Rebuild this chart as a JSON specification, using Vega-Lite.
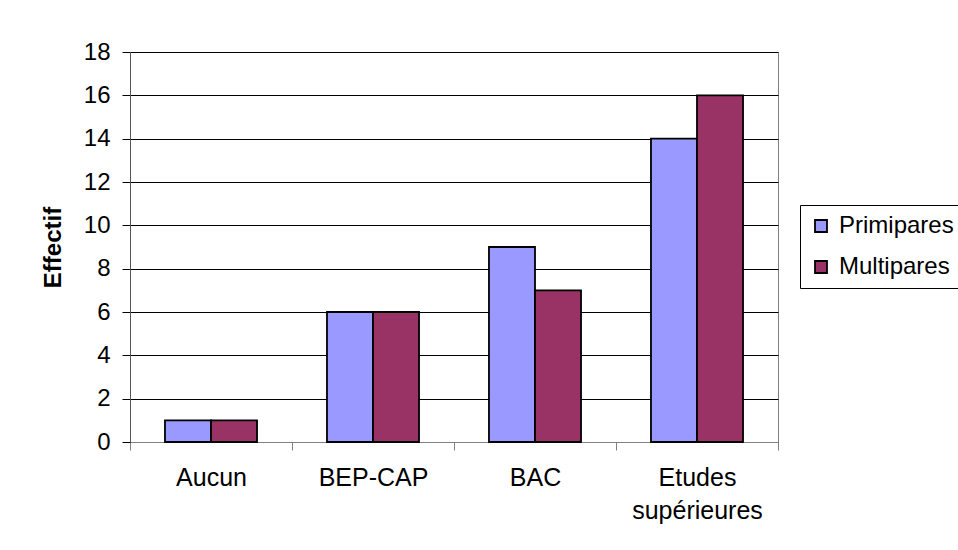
{
  "$schema": "https://vega.github.io/schema/vega-lite/v6.json",
  "width": 648,
  "height": 390,
  "autosize": {"type": "none"},
  "padding": {"left": 130, "top": 52, "right": 180, "bottom": 108},
  "background": "white",
  "config": {
    "font": "Liberation Sans",
    "view": {"stroke": "#808080", "strokeWidth": 1}
  },
  "data": {
    "values": [
      {"niveau": "Aucun", "groupe": "Primipares", "effectif": 1},
      {"niveau": "Aucun", "groupe": "Multipares", "effectif": 1},
      {"niveau": "BEP-CAP", "groupe": "Primipares", "effectif": 6},
      {"niveau": "BEP-CAP", "groupe": "Multipares", "effectif": 6},
      {"niveau": "BAC", "groupe": "Primipares", "effectif": 9},
      {"niveau": "BAC", "groupe": "Multipares", "effectif": 7},
      {"niveau": "Etudes supérieures", "groupe": "Primipares", "effectif": 14},
      {"niveau": "Etudes supérieures", "groupe": "Multipares", "effectif": 16}
    ]
  },
  "mark": {"type": "bar", "stroke": "black", "strokeWidth": 1.8},
  "encoding": {
    "x": {
      "field": "niveau",
      "type": "nominal",
      "sort": ["Aucun", "BEP-CAP", "BAC", "Etudes supérieures"],
      "scale": {"paddingInner": 0, "paddingOuter": 0},
      "axis": {
        "title": null,
        "labelAngle": 0,
        "labelFont": "Liberation Sans",
        "labelFontSize": 25,
        "labelColor": "black",
        "labelPadding": 15,
        "labelLineHeight": 33,
        "labelExpr": "datum.value == 'Etudes supérieures' ? ['Etudes', 'supérieures'] : datum.value",
        "tickBand": "extent",
        "tickSize": 8,
        "tickColor": "#808080",
        "domainColor": "#808080",
        "grid": false
      }
    },
    "xOffset": {
      "field": "groupe",
      "type": "nominal",
      "sort": ["Primipares", "Multipares"],
      "scale": {"paddingInner": 0, "paddingOuter": 0.76}
    },
    "y": {
      "field": "effectif",
      "type": "quantitative",
      "scale": {"domain": [0, 18], "nice": false},
      "axis": {
        "title": "Effectif",
        "titleFont": "Liberation Sans",
        "titleFontSize": 24,
        "titleFontWeight": "bold",
        "titleColor": "black",
        "titlePadding": 18,
        "values": [0, 2, 4, 6, 8, 10, 12, 14, 16, 18],
        "labelFont": "Liberation Sans",
        "labelFontSize": 24,
        "labelColor": "black",
        "labelPadding": 12,
        "tickSize": 8,
        "tickColor": "black",
        "domainColor": "#555555",
        "grid": true,
        "gridColor": "black",
        "gridOpacity": 1,
        "gridWidth": 1
      }
    },
    "color": {
      "field": "groupe",
      "type": "nominal",
      "sort": ["Primipares", "Multipares"],
      "scale": {"domain": ["Primipares", "Multipares"], "range": ["#9999FF", "#993366"]},
      "legend": {
        "title": null,
        "orient": "none",
        "legendX": 670,
        "legendY": 153,
        "strokeColor": "black",
        "fillColor": "white",
        "padding": 9,
        "symbolType": "square",
        "symbolSize": 144,
        "symbolStrokeColor": "black",
        "symbolStrokeWidth": 1.8,
        "symbolOpacity": 1,
        "labelFont": "Liberation Sans",
        "labelFontSize": 24,
        "labelColor": "black",
        "labelOffset": 6,
        "rowPadding": 17
      }
    }
  }
}
